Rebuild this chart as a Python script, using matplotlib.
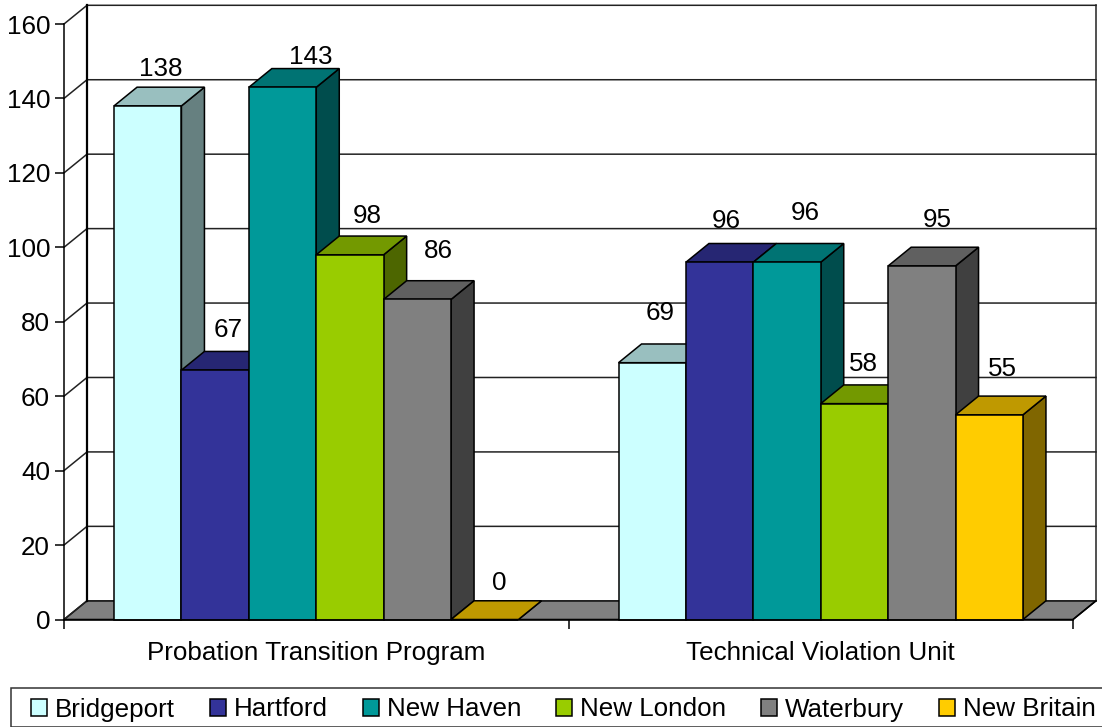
import matplotlib
matplotlib.use('Agg')
from matplotlib import pyplot as plt
from matplotlib.colors import to_rgb
from matplotlib.patches import Patch, Polygon, Rectangle

plt.rcParams['font.family'] = ['Liberation Sans', 'DejaVu Sans']

# data
categories = ['Probation Transition Program', 'Technical Violation Unit']
offices = ['Bridgeport', 'Hartford', 'New Haven', 'New London', 'Waterbury', 'New Britain']
probation = [138, 67, 143, 98, 86, 0]
technical = [69, 96, 96, 58, 95, 55]
colors = ['#CCFFFF', '#333399', '#009999', '#99CC00', '#808080', '#FFCC00']
y_ticks = [0, 20, 40, 60, 80, 100, 120, 140, 160]

# label nudges from the bar centre, in pixels
probation_nudge = [(13, 37), (13, 40), (28, 30), (17, 39), (21, 48), (14, 36)]
technical_nudge = [(8, 50), (7, 41), (18, 49), (9, 40), (15, 46), (13, 46)]

W, H = 1102, 727
LEFT, RIGHT, BOTTOM, TOP = 64, 1073, 619.5, 24
FS = 18.7
LW = 1.1

fig = plt.figure(figsize=(W / 100, H / 100), dpi=100)
ax = fig.add_axes([LEFT / W, 1 - BOTTOM / H, (RIGHT - LEFT) / W, (BOTTOM - TOP) / H])
ax.set_xlim(0, 2)
ax.set_ylim(0, 160)

# 3d depth of the box, pixels turned into data units
DX = 23 / ((RIGHT - LEFT) / 2)
DY = 18.7 / ((BOTTOM - TOP) / 160)
BAR_W = 0.1336
MARGIN = (1 - BAR_W * len(offices)) / 2


def shade(color, k):
    return tuple(c * k for c in to_rgb(color))


# floor and walls
ax.add_patch(Polygon([(0, 0), (2, 0), (2 + DX, DY), (DX, DY)], closed=True, fc='#808080',
                     ec='black', lw=LW, clip_on=False, zorder=1))
for v in y_ticks:
    ax.plot([0, DX, 2 + DX], [v, v + DY, v + DY], color='#222222', lw=LW, clip_on=False, zorder=1.5)
ax.plot([DX, DX], [DY, 160 + DY], color='black', lw=1.6, clip_on=False, zorder=1.5)
ax.plot([2 + DX, 2 + DX], [DY, 160 + DY], color='#222222', lw=LW, clip_on=False, zorder=1.5)
ax.plot([2, 2 + DX], [0, DY], color='black', lw=LW, clip_on=False, zorder=1.5)

# bars, left to right so that each one covers the side of the one before
z = 2
for c, (values, nudges) in enumerate([(probation, probation_nudge), (technical, technical_nudge)]):
    for i, v in enumerate(values):
        x0 = c + MARGIN + i * BAR_W
        x1 = x0 + BAR_W
        col = colors[i]
        ax.add_patch(Polygon([(x1, 0), (x1 + DX, DY), (x1 + DX, v + DY), (x1, v)], closed=True,
                             fc=shade(col, 0.5), ec='black', lw=LW, clip_on=False, zorder=z))
        ax.add_patch(Polygon([(x0, v), (x1, v), (x1 + DX, v + DY), (x0 + DX, v + DY)], closed=True,
                             fc=shade(col, 0.75), ec='black', lw=LW, clip_on=False, zorder=z))
        ax.bar(x0, v, width=BAR_W, align='edge', color=col, edgecolor='black', lw=LW,
               clip_on=False, zorder=z + 0.1)
        ax.annotate(str(v), (x0 + BAR_W / 2, v), xytext=nudges[i], textcoords='offset pixels',
                    ha='center', va='center', fontsize=FS, color='black', zorder=50)
        z += 1

for side in ['top', 'right']:
    ax.spines[side].set_visible(False)
for side in ['left', 'bottom']:
    ax.spines[side].set_linewidth(LW)
    ax.spines[side].set_zorder(40)

ax.set_yticks(y_ticks)
ax.set_xticks([0, 1, 2])
ax.set_xticklabels([])
ax.set_xticks([0.5, 1.5], minor=True)
ax.set_xticklabels(categories, minor=True)
ax.tick_params(axis='y', length=6.5, width=LW, pad=3.5, labelsize=FS)
ax.tick_params(axis='x', which='major', length=6.5, width=LW)
ax.tick_params(axis='x', which='minor', length=0, pad=15.5, labelsize=FS)

# legend box runs off the bottom and the right of the picture
fig.add_artist(Rectangle((11 / W, 0), (W + 5) / W, 1 - 687.5 / H, transform=fig.transFigure,
                         fc='white', ec='#333333', lw=LW))
handles = [Patch(fc=col, ec='black', lw=LW, label=name) for col, name in zip(colors, offices)]
fig.legend(handles=handles, ncol=6, frameon=False, loc='center left', fontsize=FS,
           bbox_to_anchor=(31 / W, 1 - 709.5 / H), borderaxespad=0, borderpad=0,
           handlelength=0.615, handleheight=0.6, handletextpad=0.31, columnspacing=1.34)

fig.savefig('out.png', dpi=100)
